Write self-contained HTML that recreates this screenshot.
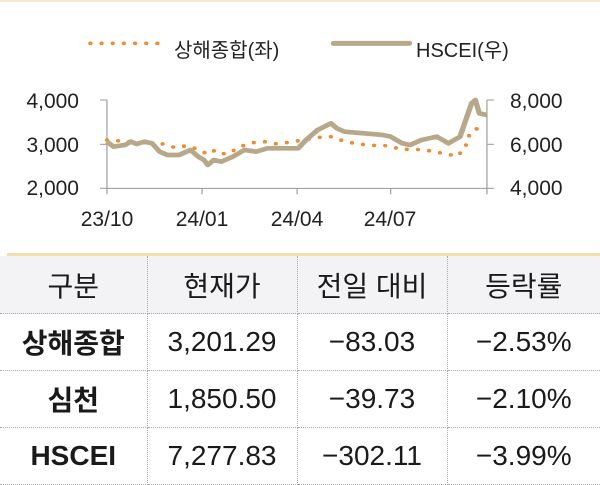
<!DOCTYPE html>
<html><head><meta charset="utf-8"><style>
body{margin:0;width:600px;height:480px;background:#fff;overflow:hidden;position:relative;font-family:"Liberation Sans","Noto Sans CJK KR",sans-serif;}
table{position:absolute;left:0;top:256px;width:600px;border-collapse:collapse;table-layout:fixed}
td{height:56px;text-align:center;font-size:28px;color:#1a1a1a;border-bottom:1px dotted #aaa;border-right:1px dotted #aaa;padding:0}
td:last-child{border-right:none}
tr.h td{background:#f3f3f5;height:57px}
td.b{font-weight:bold}
td.n{font-size:28px}
</style></head><body>
<div style="position:absolute;left:0;top:0;width:600px;height:2px;background:#fbe8cc"></div>
<svg width="600" height="250" style="position:absolute;left:0;top:0">
<g transform="translate(-2,0) scale(0.385,0.3333)" fill="none">
<line x1="240" y1="130" x2="440" y2="130" stroke="#f08a30" stroke-width="11" stroke-linecap="round" stroke-dasharray="0 29"/>
<line x1="872" y1="130" x2="1068" y2="130" stroke="#b8a88a" stroke-width="15" stroke-linecap="round"/>
<polyline points="283,300 283,565 1270,565 1270,300" stroke="#999" stroke-width="3"/>
<g stroke="#999" stroke-width="3">
<line x1="265" y1="300" x2="283" y2="300"/><line x1="265" y1="433" x2="283" y2="433"/><line x1="265" y1="565" x2="283" y2="565"/>
<line x1="1270" y1="300" x2="1288" y2="300"/><line x1="1270" y1="433" x2="1288" y2="433"/><line x1="1270" y1="565" x2="1288" y2="565"/>
<line x1="283" y1="565" x2="283" y2="583"/><line x1="530" y1="565" x2="530" y2="583"/><line x1="777" y1="565" x2="777" y2="583"/><line x1="1020" y1="565" x2="1020" y2="583"/><line x1="1270" y1="565" x2="1270" y2="583"/>
</g>
<polyline points="283,420 400,430 430,432 460,443 490,437 520,448 545,463 565,450 590,463 615,450 640,435 662,428 695,425 725,432 755,427 777,423 805,418 835,412 865,410 895,422 925,430 958,435 988,437 1015,437 1045,448 1072,448 1102,449 1135,455 1165,463 1195,468 1215,437 1225,403 1245,385 1265,397" stroke="#f08a30" stroke-width="11" stroke-linecap="round" stroke-dasharray="0 29"/>
<polyline points="283,425 300,440 330,435 345,425 360,432 380,425 400,430 420,455 440,465 470,465 500,450 520,470 535,480 545,495 560,480 580,485 610,470 640,450 670,455 700,445 740,445 780,445 800,420 830,390 865,370 880,385 900,395 950,400 1000,405 1020,410 1050,430 1070,435 1100,420 1140,410 1170,430 1200,410 1215,360 1230,310 1240,300 1250,340 1270,345" stroke="#b8a88a" stroke-width="14" stroke-linejoin="round"/>
</g>
<g font-size="21" fill="#222" font-family="Liberation Sans,sans-serif">
<text x="79" y="108" text-anchor="end">4,000</text><text x="79" y="152" text-anchor="end">3,000</text><text x="79" y="195" text-anchor="end">2,000</text>
<text x="510" y="108">8,000</text><text x="510" y="152">6,000</text><text x="510" y="195">4,000</text>
<text x="107" y="226" text-anchor="middle">23/10</text><text x="202" y="226" text-anchor="middle">24/01</text><text x="297" y="226" text-anchor="middle">24/04</text><text x="390" y="226" text-anchor="middle">24/07</text>
</g>
<g font-size="20" fill="#222" font-family="Liberation Sans,Noto Sans CJK KR,sans-serif">
<text x="174" y="57">상해종합(좌)</text><text x="416" y="57">HSCEI(우)</text>
</g>
</svg>
<div style="position:absolute;left:7px;top:253px;width:593px;height:4px;background:#f3deb0"></div>
<table>
<colgroup><col style="width:147px"><col style="width:150px"><col style="width:150px"><col style="width:153px"></colgroup>
<tr class="h"><td>구분</td><td>현재가</td><td>전일 대비</td><td>등락률</td></tr>
<tr><td class="b">상해종합</td><td class="n">3,201.29</td><td class="n">−83.03</td><td class="n">−2.53%</td></tr>
<tr><td class="b">심천</td><td class="n">1,850.50</td><td class="n">−39.73</td><td class="n">−2.10%</td></tr>
<tr><td class="b">HSCEI</td><td class="n">7,277.83</td><td class="n">−302.11</td><td class="n">−3.99%</td></tr>
</table>
</body></html>
